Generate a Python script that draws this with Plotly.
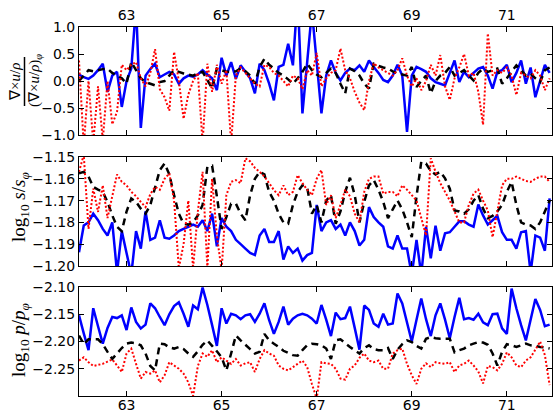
import plotly.graph_objects as go

# sample positions along the coordinate (step 0.1 from 62.0)
x_start = 62.0
x_step = 0.1
n_pts = 100
x = [round(x_start + x_step * i, 1) for i in range(n_pts)]

# --- panel 1: normalised vorticity ---
vort_blue = [
    0.12, 0.07, 0.04, 0.10, 0.20, 0.32, -0.20, 0.10, 0.17, -0.48,
    0.00, 0.23, 1.40, -0.87, 0.10, 0.22, 0.32, 0.07, 0.12, 0.17,
    0.12, -0.05, 0.05, 0.10, 0.08, 0.12, 0.20, 0.12, 0.05, -0.17,
    0.43, 0.10, 0.35, 0.04, 0.29, 0.17, 0.05, -0.23, 0.32, 0.20,
    -0.05, -0.36, 0.26, 0.30, 0.69, 0.29, 1.60, -0.60, 0.35, 1.30,
    0.35, -0.60, 0.10, 0.38, 0.15, 0.01, 0.15, 0.23, 0.20, 0.29,
    0.17, 0.38, 0.26, 0.15, 0.02, -0.02, 0.10, 0.30, 0.10, -0.94,
    0.10, 0.26, 0.22, 0.17, 0.05, -0.02, -0.05, -0.08, 0.15, 0.38,
    -0.02, 0.17, 0.07, 0.15, 0.23, 0.26, 0.10, -0.14, 0.17, 0.20,
    0.30, -0.02, 0.15, 0.38, -0.05, 0.25, -0.30, 0.00, 0.30, 0.15,
]
vort_black = [
    0.00, 0.10, 0.20, 0.18, 0.20, 0.22, 0.23, 0.15, 0.10, 0.05,
    -0.05, 0.35, 0.20, 0.05, -0.02, -0.05, -0.08, -0.02, 0.00, 0.10,
    0.20, 0.17, 0.14, 0.12, 0.10, 0.14, 0.17, 0.02, -0.14, 0.23,
    0.20, 0.17, 0.17, 0.18, 0.23, 0.18, 0.10, -0.05, 0.26, 0.41,
    0.30, 0.23, 0.15, 0.10, 0.03, -0.05, 0.05, 0.17, 0.32, 0.20,
    0.12, 0.07, 0.15, 0.23, 0.15, -0.05, -0.23, 0.23, 0.18, 0.10,
    -0.05, -0.14, 0.32, 0.28, 0.25, 0.23, 0.18, 0.14, 0.12, 0.10,
    0.26, -0.11, 0.00, 0.10, -0.23, 0.00, 0.10, 0.15, 0.26, 0.10,
    0.15, 0.20, 0.10, 0.01, 0.15, 0.23, 0.17, 0.20, 0.23, -0.05,
    0.05, 0.17, 0.29, 0.20, 0.10, 0.14, 0.05, -0.02, 0.20, 0.25,
]
vort_red = [
    0.38, -1.20, 0.00, -1.15, -0.10, -1.10, 0.00, -0.80, -0.57, 0.30,
    0.20, 0.30, 0.35, 0.05, -0.10, 0.15, 0.59, -0.15, -0.30, -0.55,
    0.54, 0.00, -0.70, -0.25, 0.00, 0.15, -1.15, 0.32, -0.20, 0.30,
    -0.05, 0.20, -1.15, 0.10, 0.25, 0.15, 0.05, -0.05, -0.10, 0.30,
    0.26, 0.15, 0.10, 0.00, -0.10, 0.10, 0.05, -0.15, 0.20, 0.10,
    0.52, -0.10, 0.05, 0.15, 0.20, 0.60, 0.20, 0.05, -0.20, -0.40,
    -0.54, 0.00, 0.33, 0.25, 0.20, 0.15, 0.10, 0.20, 0.42, 0.10,
    -0.10, 0.05, -0.17, 0.00, 0.30, 0.10, 0.48, -0.10, -0.35, 0.05,
    0.25, 0.50, 0.10, 0.15, -0.20, -0.81, 0.88, 0.10, 0.20, 0.15,
    0.25, 0.10, -0.26, 0.15, 0.10, 0.05, 0.20, 0.10, -0.17, 0.05,
]

# --- panel 2: log10 s/s_phi ---
entr_blue = [
    -1.1937, -1.1814, -1.1800, -1.1760, -1.1790, -1.1830, -1.1860, -1.1800, -1.2030, -1.1840,
    -1.1940, -1.2040, -1.1840, -1.1920, -1.1750, -1.1880, -1.1870, -1.1790, -1.1870, -1.1875,
    -1.1860, -1.1840, -1.1830, -1.1820, -1.1810, -1.1820, -1.1790, -1.1840, -1.1760, -1.1910,
    -1.1780, -1.1820, -1.1840, -1.1880, -1.1900, -1.1920, -1.1940, -1.1950, -1.1860, -1.1830,
    -1.1890, -1.1890, -1.1840, -1.1970, -1.1910, -1.1940, -1.1920, -1.1975, -1.1950, -1.1940,
    -1.1720, -1.1840, -1.1800, -1.1790, -1.1830, -1.1810, -1.1860, -1.1800, -1.1840, -1.1906,
    -1.1880, -1.1730, -1.1775, -1.1800, -1.1820, -1.1910, -1.1920, -1.1860, -1.1920, -1.1920,
    -1.2040, -1.1880, -1.2040, -1.1820, -1.1965, -1.1815, -1.1930, -1.1850, -1.1845, -1.1820,
    -1.1795, -1.1795, -1.1810, -1.1820, -1.1718, -1.1768, -1.1810, -1.1790, -1.1770, -1.1845,
    -1.1880, -1.1880, -1.1920, -1.1845, -1.1840, -1.2030, -1.1860, -1.1870, -1.1930, -1.1690,
]
entr_black = [
    -1.1575, -1.1568, -1.1590, -1.1637, -1.1650, -1.1660, -1.1706, -1.1768, -1.1820, -1.1840,
    -1.1750, -1.1690, -1.1706, -1.1737, -1.1760, -1.1720, -1.1640, -1.1560, -1.1530, -1.1580,
    -1.1675, -1.1760, -1.1806, -1.1810, -1.1800, -1.1768, -1.1720, -1.1545, -1.1540, -1.1680,
    -1.1830, -1.1775, -1.1714, -1.1714, -1.1760, -1.1790, -1.1675, -1.1600, -1.1568, -1.1580,
    -1.1660, -1.1700, -1.1760, -1.1800, -1.1806, -1.1720, -1.1660, -1.1630, -1.1640, -1.1760,
    -1.1720, -1.1800, -1.1700, -1.1675, -1.1806, -1.1750, -1.1660, -1.1595, -1.1675, -1.1800,
    -1.1706, -1.1630, -1.1606, -1.1650, -1.1706, -1.1780, -1.1740, -1.1700, -1.1740, -1.1800,
    -1.1868, -1.1680, -1.1522, -1.1530, -1.1565, -1.1580, -1.1568, -1.1598, -1.1645, -1.1745,
    -1.1750, -1.1760, -1.1740, -1.1700, -1.1675, -1.1737, -1.1780, -1.1770, -1.1750, -1.1720,
    -1.1660, -1.1614, -1.1720, -1.1800, -1.1810, -1.1814, -1.1830, -1.1800, -1.1750, -1.1700,
]
entr_red = [
    -1.1568, -1.1490, -1.1830, -1.1645, -1.1752, -1.1630, -1.1780, -1.1680, -1.1580, -1.1614,
    -1.1630, -1.1660, -1.1680, -1.1706, -1.1730, -1.1670, -1.1637, -1.1650, -1.1600, -1.1575,
    -1.1700, -1.2010, -1.1900, -1.1700, -1.2010, -1.1750, -1.1568, -1.2010, -1.1600, -1.1860,
    -1.2020, -1.1675, -1.1614, -1.1606, -1.1620, -1.1506, -1.1520, -1.1550, -1.1568, -1.1590,
    -1.1620, -1.1652, -1.1675, -1.1630, -1.1675, -1.1660, -1.1583, -1.1620, -1.1650, -1.1675,
    -1.1600, -1.1560, -1.1720, -1.1675, -1.1780, -1.1720, -1.1650, -1.1680, -1.1760, -1.1800,
    -1.1660, -1.1600, -1.1590, -1.1590, -1.1668, -1.1660, -1.1660, -1.1680, -1.1630, -1.1650,
    -1.1675, -1.1700, -1.1780, -1.1860, -1.1506, -1.1568, -1.1620, -1.1660, -1.1700, -1.1750,
    -1.1800, -1.1800, -1.1720, -1.1668, -1.1650, -1.1700, -1.1745, -1.1868, -1.1750, -1.1630,
    -1.1600, -1.1600, -1.1590, -1.1600, -1.1610, -1.1614, -1.1600, -1.1590, -1.1590, -1.1614,
]

# --- panel 3: log10 p/p_phi ---
pres_blue = [
    -2.152, -2.185, -2.216, -2.139, -2.172, -2.204, -2.175, -2.155, -2.157, -2.152,
    -2.179, -2.1375, -2.164, -2.176, -2.169, -2.130, -2.139, -2.155, -2.170, -2.150,
    -2.135, -2.128, -2.149, -2.173, -2.134, -2.141, -2.101, -2.133, -2.170, -2.208,
    -2.139, -2.167, -2.149, -2.152, -2.159, -2.152, -2.150, -2.164, -2.149, -2.130,
    -2.161, -2.186, -2.164, -2.136, -2.169, -2.158, -2.152, -2.149, -2.152, -2.158,
    -2.167, -2.133, -2.160, -2.190, -2.147, -2.159, -2.157, -2.136, -2.175, -2.215,
    -2.134, -2.142, -2.167, -2.173, -2.149, -2.169, -2.167, -2.112, -2.130, -2.165,
    -2.200, -2.160, -2.121, -2.159, -2.190, -2.152, -2.130, -2.160, -2.194, -2.155,
    -2.120, -2.159, -2.157, -2.160, -2.149, -2.165, -2.170, -2.150, -2.149, -2.176,
    -2.186, -2.103, -2.139, -2.170, -2.198, -2.160, -2.122, -2.142, -2.172, -2.169,
]
pres_black = [
    -2.189, -2.205, -2.196, -2.196, -2.196, -2.205, -2.219, -2.232, -2.222, -2.212,
    -2.204, -2.202, -2.203, -2.207, -2.222, -2.245, -2.253, -2.204, -2.205, -2.211,
    -2.213, -2.210, -2.214, -2.222, -2.228, -2.218, -2.206, -2.198, -2.208, -2.218,
    -2.229, -2.253, -2.222, -2.189, -2.198, -2.206, -2.214, -2.222, -2.219, -2.186,
    -2.198, -2.204, -2.210, -2.217, -2.221, -2.225, -2.226, -2.216, -2.207, -2.204,
    -2.205, -2.207, -2.213, -2.232, -2.198, -2.196, -2.203, -2.210, -2.216, -2.222,
    -2.212, -2.207, -2.214, -2.216, -2.216, -2.212, -2.232, -2.215, -2.205, -2.198,
    -2.201, -2.208, -2.213, -2.195, -2.192, -2.194, -2.195, -2.195, -2.195, -2.220,
    -2.216, -2.213, -2.207, -2.204, -2.201, -2.202, -2.206, -2.222, -2.244, -2.219,
    -2.205, -2.207, -2.210, -2.207, -2.204, -2.207, -2.208, -2.210, -2.211, -2.213,
]
pres_red = [
    -2.235, -2.229, -2.238, -2.245, -2.243, -2.241, -2.237, -2.233, -2.244, -2.256,
    -2.222, -2.213, -2.241, -2.268, -2.256, -2.259, -2.253, -2.275, -2.262, -2.238,
    -2.244, -2.250, -2.259, -2.275, -2.300, -2.245, -2.222, -2.228, -2.216, -2.238,
    -2.229, -2.235, -2.241, -2.232, -2.244, -2.240, -2.238, -2.256, -2.232, -2.216,
    -2.222, -2.226, -2.244, -2.250, -2.253, -2.247, -2.241, -2.235, -2.247, -2.278,
    -2.305, -2.238, -2.240, -2.241, -2.250, -2.268, -2.270, -2.250, -2.244, -2.230,
    -2.222, -2.235, -2.238, -2.235, -2.250, -2.250, -2.222, -2.216, -2.213, -2.241,
    -2.262, -2.278, -2.250, -2.240, -2.247, -2.238, -2.240, -2.241, -2.238, -2.256,
    -2.244, -2.241, -2.235, -2.244, -2.255, -2.277, -2.245, -2.247, -2.253, -2.241,
    -2.220, -2.229, -2.244, -2.247, -2.235, -2.229, -2.215, -2.200, -2.225, -2.280,
]

x_ticks = [63, 65, 67, 69, 71]
x_range = [62.0, 71.95]

panels = [
    ("x", "y", vort_blue, vort_black, vort_red),
    ("x2", "y2", entr_blue, entr_black, entr_red),
    ("x3", "y3", pres_blue, pres_black, pres_red),
]

fig = go.Figure()
for xa, ya, blue, black, red in panels:
    fig.add_trace(go.Scatter(x=x, y=blue, xaxis=xa, yaxis=ya, mode="lines",
                             line=dict(color="#0000ff", width=2.5, simplify=False)))
    fig.add_trace(go.Scatter(x=x, y=black, xaxis=xa, yaxis=ya, mode="lines",
                             line=dict(color="#000000", width=2.5, dash="7px,5px", simplify=False)))
    fig.add_trace(go.Scatter(x=x, y=red, xaxis=xa, yaxis=ya, mode="lines",
                             line=dict(color="#ff0000", width=2, dash="2px,2px", simplify=False)))

tick_font = dict(family="DejaVu Sans", size=14, color="black")
common_x = dict(range=x_range, tickvals=x_ticks, ticks="inside", ticklen=5, tickwidth=1,
                tickcolor="black", showline=True, linecolor="black", linewidth=1,
                mirror="ticks", showgrid=False, zeroline=False, tickfont=tick_font,
                automargin=False)
common_y = dict(ticks="inside", ticklen=5, tickwidth=1, tickcolor="black", showline=True,
                linecolor="black", linewidth=1, mirror="ticks", showgrid=False,
                zeroline=False, tickfont=tick_font, automargin=False)

fig.update_layout(
    width=554, height=413,
    margin=dict(l=79, r=2, t=27, b=17),
    paper_bgcolor="white", plot_bgcolor="white",
    showlegend=False,
    xaxis=dict(common_x, domain=[0, 1], anchor="y", side="top"),
    yaxis=dict(common_y, domain=[0.7073, 1.0], anchor="x", range=[-1.0, 1.0],
               tickvals=[-1.0, -0.5, 0.0, 0.5, 1.0], tickformat=".1f"),
    xaxis2=dict(common_x, domain=[0, 1], anchor="y2", showticklabels=False),
    yaxis2=dict(common_y, domain=[0.3523, 0.6477], anchor="x2", range=[-1.20, -1.15],
                tickvals=[-1.20, -1.19, -1.18, -1.17, -1.16, -1.15], tickformat=".2f"),
    xaxis3=dict(common_x, domain=[0, 1], anchor="y3", side="bottom", ticklabelstandoff=-4),
    yaxis3=dict(common_y, domain=[0.0, 0.2954], anchor="x3", range=[-2.30, -2.10],
                tickvals=[-2.25, -2.20, -2.15, -2.10], tickformat=".2f"),
)

# y-axis labels
label_font = dict(family="Liberation Serif", size=19, color="black")
frac_font = dict(family="Liberation Serif", size=15, color="black")
W, H0, PH = 473.0, 396.0, 369.0


def px_x(p):
    return (p - 79.0) / W


def px_y(p):
    return (H0 - p) / PH


annotations = [
    dict(text="∇×<i>u</i>/<i>ρ</i>", x=px_x(15), y=px_y(82), font=frac_font),
    dict(text="(∇×<i>u</i>/<i>ρ</i>)<sub><i>φ</i></sub>", x=px_x(35), y=px_y(81), font=frac_font),
    dict(text="log<sub>10</sub> <i>s</i>/<i>s</i><sub><i>φ</i></sub>", x=px_x(20), y=px_y(207),
         font=label_font),
    dict(text="log<sub>10</sub> <i>p</i>/<i>p</i><sub><i>φ</i></sub>", x=px_x(20), y=px_y(340),
         font=label_font),
]
for a in annotations:
    fig.add_annotation(xref="paper", yref="paper", showarrow=False, textangle=-90,
                       xanchor="center", yanchor="middle", **a)

# fraction bar of the top label
fig.add_shape(type="line", xref="paper", yref="paper",
              x0=px_x(24.5), x1=px_x(24.5), y0=px_y(57), y1=px_y(106),
              line=dict(color="black", width=1.5))

fig.write_html("out.html")
